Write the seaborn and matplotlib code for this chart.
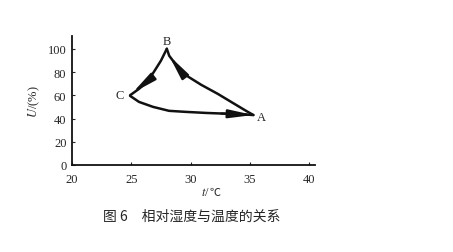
import matplotlib
matplotlib.use("Agg")
import matplotlib.pyplot as plt
import seaborn as sns
import pandas as pd

# Curve A -> B
ab_t = [35.3, 34.7, 33.7, 32.3, 30.9, 29.8, 28.9, 28.2, 28.0]
ab_u = [43, 46.5, 52.6, 61.2, 69, 76, 84.5, 94, 100]
# Curve B -> C
bc_t = [28.0, 27.5, 26.9, 26.4, 25.65, 24.9]
bc_u = [100, 89.7, 80, 72.4, 65.5, 60]
# Curve C -> A
ca_t = [24.9, 25.65, 26.84, 28.19, 29.62, 31.31, 32.6, 33.7, 35.3]
ca_u = [59.5, 54.3, 50, 46.6, 45.7, 44.8, 44.3, 44, 43]

point_names = ["A", "B", "C"]
point_t = [36.0, 28.0, 24.0]
point_u = [41, 107, 60]

x_ticks = [20, 25, 30, 35, 40]
y_ticks = [0, 20, 40, 60, 80, 100]

sns.set_style("ticks")
plt.rcParams["font.family"] = ["Liberation Serif", "Noto Sans CJK SC"]
plt.rcParams["mathtext.fontset"] = "stix"

fig = plt.figure(figsize=(4.53, 2.53), dpi=100)
ax = fig.add_axes([72 / 453, 1 - 166 / 253, 243 / 453, 129 / 253])

for t, u in [(ab_t, ab_u), (bc_t, bc_u), (ca_t, ca_u)]:
    df = pd.DataFrame({"t": t, "u": u})
    sns.lineplot(data=df, x="t", y="u", sort=False, color="#111111",
                 linewidth=1.8, ax=ax, estimator=None)

arrow_kw = dict(arrowstyle="-|>,head_length=1.45,head_width=0.25",
                color="#111111", lw=1.6, mutation_scale=10,
                shrinkA=0, shrinkB=0)
ax.annotate("", xy=(ab_t[-2], ab_u[-2]), xytext=(ab_t[-3], ab_u[-3]), arrowprops=arrow_kw)
ax.annotate("", xy=(bc_t[-1] + 0.2, bc_u[-1] + 2), xytext=(bc_t[-3], bc_u[-3]), arrowprops=arrow_kw)
ax.annotate("", xy=(ca_t[-1], ca_u[-1]), xytext=(ca_t[-3], ca_u[-3]), arrowprops=arrow_kw)

for n, t, u in zip(point_names, point_t, point_u):
    ax.text(t, u, n, fontsize=9, ha="center", va="center")

ax.set_xlim(20, 40.5)
ax.set_ylim(0, 111)
ax.set_xticks(x_ticks)
ax.set_yticks(y_ticks)
ax.tick_params(direction="in", length=2, width=0.8, labelsize=9)
ax.tick_params(axis="x", pad=6)
ax.tick_params(axis="y", pad=4)
for s in ["top", "right"]:
    ax.spines[s].set_visible(False)
for s in ["left", "bottom"]:
    ax.spines[s].set_linewidth(1.3)
    ax.spines[s].set_color("#111111")

ax.set_xlabel("")
ax.text(0.567, -0.21, r"$\mathit{t}$/", transform=ax.transAxes, ha="right", va="center", fontsize=9)
ax.text(0.567, -0.21, "℃", transform=ax.transAxes, ha="left", va="center", fontsize=8,
        family=["Noto Sans CJK SC"])
ax.set_ylabel(r"$\mathit{U}$/(%)", fontsize=9, labelpad=4)

fig.text(192 / 453, 1 - 217 / 253, "图 6　相对湿度与温度的关系", ha="center", va="center",
         fontsize=10, family=["Noto Sans CJK SC"])

fig.savefig("out.png", dpi=100, facecolor="white")
